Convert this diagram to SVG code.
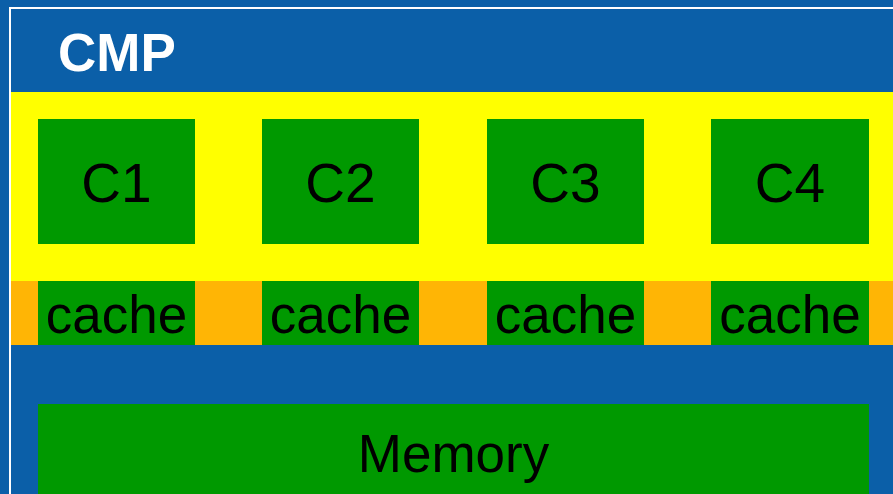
<svg xmlns="http://www.w3.org/2000/svg" width="893" height="494" viewBox="0 0 893 494">
  <style>
    .box { fill: #009900; }
    .lbl { font-family: "Liberation Sans", Arial, sans-serif; fill: #000000; text-anchor: middle; }
    .core { font-size: 55px; }
    .cache { font-size: 53px; }
    .title { font-family: "Liberation Sans", Arial, sans-serif; font-weight: bold; font-size: 53px; fill: #ffffff; }
  </style>
  <rect x="0" y="0" width="893" height="494" fill="#0B5FA8"/>
  <path d="M10,494 V8 H893" fill="none" stroke="#ffffff" stroke-width="2"/>
  <text class="title" x="58" y="71">CMP</text>
  <rect x="11" y="92" width="882" height="189" fill="#FFFF00"/>
  <rect x="11" y="281" width="882" height="64" fill="#FFB505"/>
  <g id="c1">
    <rect class="box" x="38" y="119" width="157" height="125"/>
    <text class="lbl core" x="116.5" y="202">C1</text>
  </g>
  <g id="c2">
    <rect class="box" x="262" y="119" width="157" height="125"/>
    <text class="lbl core" x="340.5" y="202">C2</text>
  </g>
  <g id="c3">
    <rect class="box" x="487" y="119" width="157" height="125"/>
    <text class="lbl core" x="565.5" y="202">C3</text>
  </g>
  <g id="c4">
    <rect class="box" x="711" y="119" width="158" height="125"/>
    <text class="lbl core" x="790" y="202">C4</text>
  </g>
  <g id="cache1">
    <rect class="box" x="38" y="281" width="157" height="64"/>
    <text class="lbl cache" x="116.5" y="333">cache</text>
  </g>
  <g id="cache2">
    <rect class="box" x="262" y="281" width="157" height="64"/>
    <text class="lbl cache" x="340.5" y="333">cache</text>
  </g>
  <g id="cache3">
    <rect class="box" x="487" y="281" width="157" height="64"/>
    <text class="lbl cache" x="565.5" y="333">cache</text>
  </g>
  <g id="cache4">
    <rect class="box" x="711" y="281" width="158" height="64"/>
    <text class="lbl cache" x="790" y="333">cache</text>
  </g>
  <g id="memory">
    <rect class="box" x="38" y="404" width="831" height="90"/>
    <text class="lbl cache" x="453.5" y="472">Memory</text>
  </g>
  <g id="connectors"/>
</svg>
